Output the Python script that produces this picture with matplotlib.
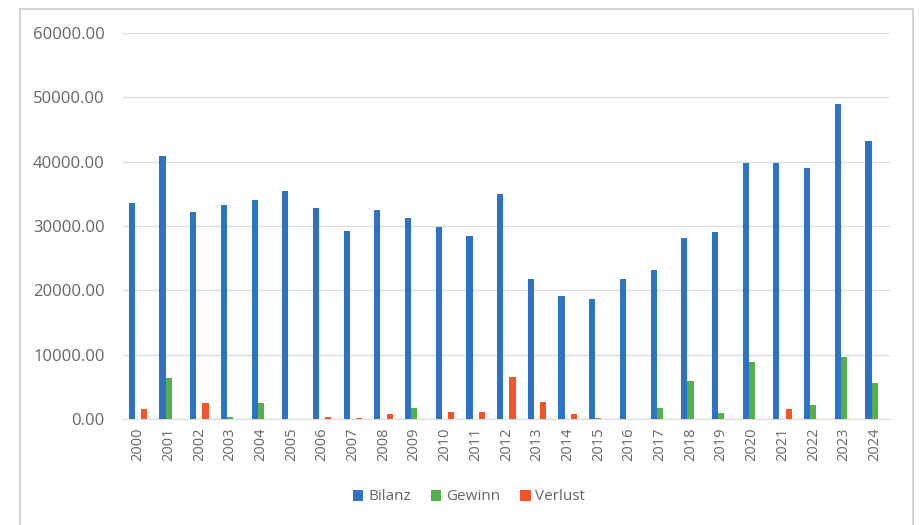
import matplotlib.pyplot as plt
import numpy as np
from matplotlib.patches import Rectangle

years = [str(y) for y in range(2000, 2025)]
bilanz = [33500, 40900, 32100, 33200, 34000, 35500, 32800, 29300, 32500, 31200,
          29900, 28500, 35000, 21800, 19100, 18600, 21800, 23200, 28200, 29100,
          39800, 39800, 39000, 48900, 43200]
gewinn = [0, 6400, 0, 300, 2600, 0, 0, 0, 0, 1750,
          0, 0, 0, 0, 0, 200, 0, 1700, 5900, 1000,
          8900, 0, 2200, 9600, 5700]
verlust = [1600, 0, 2600, 0, 0, 100, 300, 200, 800, 0,
           1200, 1100, 6500, 2700, 900, 0, 0, 0, 0, 0,
           0, 1600, 0, 0, 0]

series = [("Bilanz", bilanz, "#2e72c8"),
          ("Gewinn", gewinn, "#55b04c"),
          ("Verlust", verlust, "#f2542d")]

plt.rcParams["font.family"] = ["Open Sans", "DejaVu Sans"]

W, H = 921, 525
fig = plt.figure(figsize=(W / 100, H / 100), dpi=100)
fig.patch.set_facecolor("white")

# chart frame
fig.patches.append(Rectangle((20 / W, -0.05), 893 / W, 1.05 - 9 / H,
                             transform=fig.transFigure, fill=False,
                             edgecolor="#cccccc", linewidth=1.2))

ax = fig.add_axes([122.6 / W, 1 - 419.3 / H, (890 - 122.6) / W, (419.3 - 32.7) / H])

x = np.arange(len(years))
w = 0.2
for i, (name, vals, col) in enumerate(series):
    ax.bar(x + (i - 1) * w, vals, width=w, color=col, label=name, zorder=3)

ax.set_xlim(-0.5, len(years) - 0.5)
ax.set_ylim(0, 60000)
ax.set_yticks(np.arange(0, 60001, 10000))
ax.set_yticklabels([f"{v:.2f}" for v in np.arange(0, 60001, 10000)])
ax.set_xticks(x)
ax.set_xticklabels(years, rotation=90)
ax.tick_params(axis="y", length=0, pad=13, labelsize=12, labelcolor="#666666")
ax.tick_params(axis="x", length=0, pad=6, labelsize=10.5, labelcolor="#666666")
ax.grid(axis="y", color="#dddddd", linewidth=1, zorder=0)
for s in ["top", "right", "left"]:
    ax.spines[s].set_visible(False)
ax.spines["bottom"].set_color("#dddddd")

fig.legend(loc="center", bbox_to_anchor=(469 / W, 1 - 497 / H), ncol=3,
           frameon=False, fontsize=11, labelcolor="#666666",
           handlelength=0.7, handleheight=0.7, handletextpad=0.3,
           columnspacing=1.3)

fig.savefig("out.png", dpi=100)
